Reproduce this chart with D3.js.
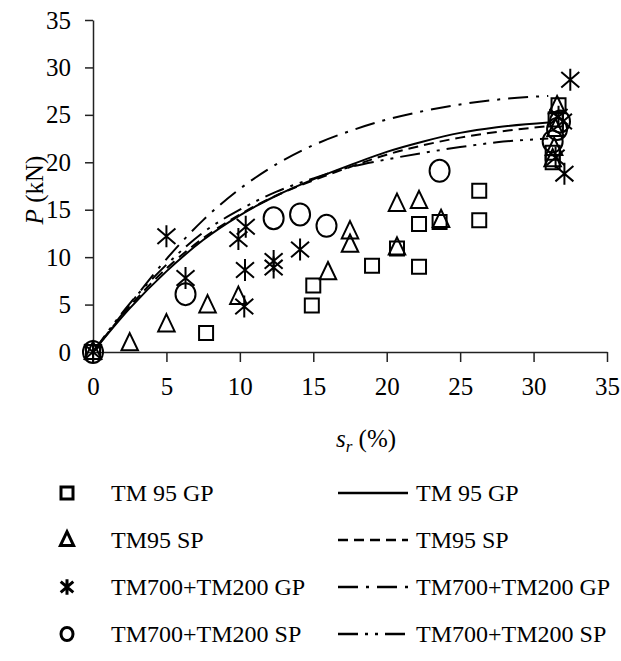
<!DOCTYPE html>
<html>
<head>
<meta charset="utf-8">
<script src="https://cdn.jsdelivr.net/npm/d3@7"></script>
<style>
  html, body { margin: 0; padding: 0; background: #fff; }
  svg { display: block; }
  text { font-family: "Liberation Serif", "Times New Roman", serif; fill: #000; }
</style>
</head>
<body>
<svg id="chart" width="621" height="661"></svg>
<script>
// Axis ticks
const xTicks = [0, 5, 10, 15, 20, 25, 30, 35];
const yTicks = [0, 5, 10, 15, 20, 25, 30, 35];

// Measured points [s_r (%), P (kN)]
const tm95GP = [[0,0],[7.7,2.0],[14.9,4.9],[15.0,7.0],[19.0,9.1],[20.7,10.9],[22.2,9.0],[22.2,13.5],
  [23.6,13.7],[26.3,13.9],[26.3,17.0],[31.3,20.0],[31.3,21.0],[31.5,24.5],[31.7,26.0]];
const tm95SP = [[0,0],[2.5,0.9],[5.0,2.9],[7.8,4.9],[9.9,5.8],[16.0,8.4],[17.5,11.3],[17.5,12.7],
  [20.7,11.0],[20.7,15.6],[22.2,15.9],[23.7,13.9],[31.3,20.3],[31.4,21.5],[31.5,23.5],[31.6,25.9]];
const tm700GP = [[0,0],[5.0,12.2],[6.3,7.8],[9.9,11.9],[10.3,4.8],[10.35,8.65],[10.4,13.2],[12.3,8.9],
  [12.3,9.6],[14.1,10.8],[31.5,20.5],[31.7,24.8],[32.0,24.3],[32.1,18.8],[32.5,28.7]];
const tm700SP = [[0,0],[6.3,6.1],[12.3,14.1],[14.1,14.5],[15.9,13.3],[23.6,19.1],[31.3,22.2],
  [31.6,23.5],[31.8,24.3]];

// Fitted curves [s_r (%), P (kN)]
const fitTm95GP = [[0,0],[2.5,4.6],[5,8.5],[7.5,11.8],[10,14.4],[12.5,16.5],[15,18.2],[17.5,19.7],
  [20,21.1],[22.5,22.2],[25,23.1],[27.5,23.7],[31,24.2]];
const fitTm95SP = [[0,0],[2.5,4.8],[5,8.8],[7.5,12.0],[10,14.5],[12.5,16.5],[15,18.1],[17.5,19.5],
  [20,20.8],[22.5,21.8],[25,22.6],[27.5,23.2],[31,23.8]];
const fitTm700GP = [[0,0],[2.5,5.0],[5,9.8],[7.5,13.9],[10,17.2],[12.5,19.8],[15,21.8],[17.5,23.3],
  [20,24.5],[22.5,25.4],[25,26.1],[27.5,26.6],[31,27.0]];
const fitTm700SP = [[0,0],[2.5,5.1],[5,9.2],[7.5,12.6],[10,15.0],[12.5,16.9],[15,18.3],[17.5,19.5],
  [20,20.3],[22.5,21.0],[25,21.6],[27.5,22.1],[31,22.5]];

const legendLabels = ["TM 95 GP", "TM95 SP", "TM700+TM200 GP", "TM700+TM200 SP"];

const svg = d3.select("#chart");
const x = d3.scaleLinear().domain([0, 35]).range([93, 607]);
const y = d3.scaleLinear().domain([0, 35]).range([352, 20]);

// Axes
const xAxis = svg.append("g").attr("transform", `translate(0,${y(0)})`)
  .call(d3.axisBottom(x).tickValues(xTicks).tickSize(10).tickSizeOuter(0).tickPadding(15));
const yAxis = svg.append("g").attr("transform", `translate(${x(0)},0)`)
  .call(d3.axisLeft(y).tickValues(yTicks).tickSize(8).tickSizeOuter(0).tickPadding(14));
[xAxis, yAxis].forEach(g => {
  g.select(".domain").attr("stroke", "#222").attr("stroke-width", 1.5);
  g.selectAll(".tick line").attr("stroke", "#222").attr("stroke-width", 1.5);
  g.selectAll(".tick text").attr("font-size", 25).attr("fill", "#000");
});

// Axis titles
svg.append("text").attr("transform", "translate(43,190) rotate(-90)")
  .attr("text-anchor", "middle").attr("font-size", 25)
  .html('<tspan font-style="italic">P</tspan> (kN)');
svg.append("text").attr("x", 366).attr("y", 447)
  .attr("text-anchor", "middle").attr("font-size", 25)
  .html('<tspan font-style="italic">s</tspan><tspan font-style="italic" font-size="17" dy="5">r</tspan><tspan dy="-5"> (%)</tspan>');

// Marker shapes
function drawMarker(g, kind, s, sw) {
  if (kind === "circle") {
    g.append("ellipse").attr("rx", s/2).attr("ry", s/2 * 1.1)
      .attr("fill", "none").attr("stroke", "#000").attr("stroke-width", sw);
    return;
  }
  const p = g.append("path").attr("fill", "none").attr("stroke", "#000").attr("stroke-width", sw);
  if (kind === "square") {
    p.attr("d", `M${-s/2},${-s/2}H${s/2}V${s/2}H${-s/2}Z`);
  } else if (kind === "triangle") {
    const h = s * 1.15;
    p.attr("d", `M0,${-h*0.6}L${s*0.55},${h*0.4}H${-s*0.55}Z`);
  } else {
    const h = s * 0.55, w = s * 0.45;
    p.attr("d", `M0,${-h}V${h}M${-w},${-h*0.7}L${w},${h*0.7}M${w},${-h*0.7}L${-w},${h*0.7}`);
  }
}

const series = [
  {data: tm95GP, kind: "square", size: 14},
  {data: tm95SP, kind: "triangle", size: 15},
  {data: tm700GP, kind: "star", size: 20},
  {data: tm700SP, kind: "circle", size: 20}
];

const fits = [
  {data: fitTm95GP, dash: null},
  {data: fitTm95SP, dash: "10,6"},
  {data: fitTm700GP, dash: "20,8,3,8"},
  {data: fitTm700SP, dash: "20,7,3,7,3,7"}
];

const line = d3.line().x(d => x(d[0])).y(d => y(d[1])).curve(d3.curveMonotoneX);
fits.forEach(f => {
  svg.append("path").datum(f.data).attr("d", line)
    .attr("fill", "none").attr("stroke", "#000").attr("stroke-width", 2)
    .attr("stroke-dasharray", f.dash);
});

series.forEach(sr => {
  svg.append("g").selectAll("g").data(sr.data).join("g")
    .attr("transform", d => `translate(${x(d[0])},${y(d[1])})`)
    .each(function() { drawMarker(d3.select(this), sr.kind, sr.size, 2); });
});

// Legend
const rowY = [493, 540, 587, 634];
legendLabels.forEach((lab, i) => {
  const mg = svg.append("g").attr("transform", `translate(67,${rowY[i]})`);
  drawMarker(mg, series[i].kind, series[i].kind === "star" ? 14 : 12, 3);
  svg.append("text").attr("x", 111).attr("y", rowY[i] + 8).attr("font-size", 24).text(lab);
  svg.append("line").attr("x1", 338).attr("x2", 408).attr("y1", rowY[i]).attr("y2", rowY[i])
    .attr("stroke", "#000").attr("stroke-width", 2.5).attr("stroke-dasharray", fits[i].dash);
  svg.append("text").attr("x", 416).attr("y", rowY[i] + 8).attr("font-size", 24).text(lab);
});
</script>
</body>
</html>
